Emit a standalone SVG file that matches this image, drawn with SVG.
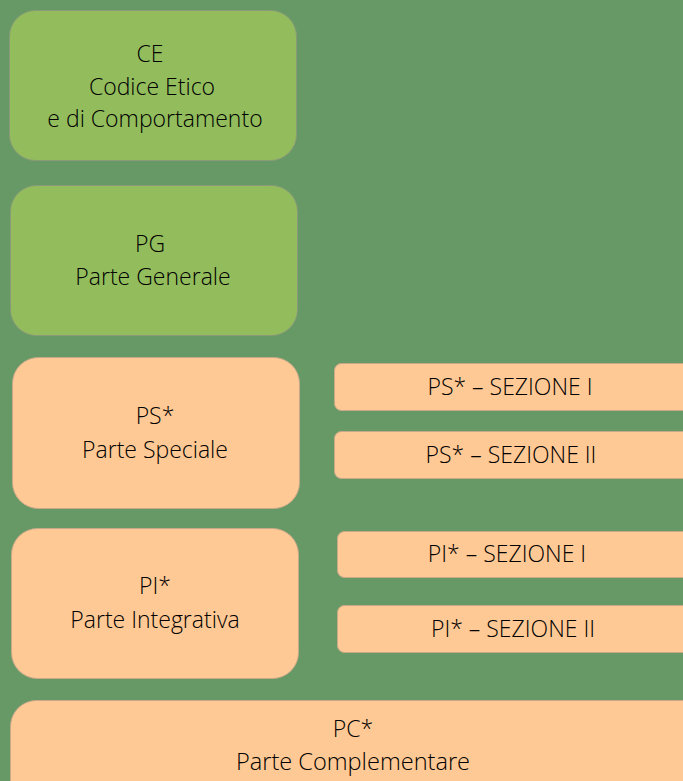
<svg xmlns="http://www.w3.org/2000/svg" width="683" height="781" viewBox="0 0 683 781">
<style>
.g{fill:#93bd5d;stroke:#8a9a78;stroke-width:1}
.p{fill:#ffc995;stroke:#c9a88a;stroke-width:1}
text{font-family:"Open Sans","Liberation Sans",sans-serif;font-weight:300;font-size:23px;fill:#000;text-anchor:middle}
</style>
<rect width="683" height="781" fill="#679966"/>
<g id="ce"><rect class="g" x="9.5" y="10.5" width="287" height="150" rx="26"/>
<text x="150" y="62">CE</text><text x="152" y="95">Codice Etico</text><text x="155" y="127">e di Comportamento</text></g>
<g id="pg"><rect class="g" x="10.5" y="185.5" width="287" height="150" rx="26"/>
<text x="150" y="252">PG</text><text x="153" y="285">Parte Generale</text></g>
<g id="ps"><rect class="p" x="12.5" y="357.5" width="287" height="151" rx="26"/>
<text x="155" y="424">PS*</text><text x="155" y="458">Parte Speciale</text></g>
<g id="ps1"><rect class="p" x="334.5" y="363.5" width="360" height="47" rx="7"/>
<text x="510" y="395">PS* – SEZIONE I</text></g>
<g id="ps2"><rect class="p" x="334.5" y="431.5" width="360" height="47" rx="7"/>
<text x="511" y="463">PS* – SEZIONE II</text></g>
<g id="pi"><rect class="p" x="11.5" y="528.5" width="287" height="150" rx="26"/>
<text x="155" y="594">PI*</text><text x="155" y="628">Parte Integrativa</text></g>
<g id="pi1"><rect class="p" x="337.5" y="531.5" width="360" height="46" rx="7"/>
<text x="507" y="562">PI* – SEZIONE I</text></g>
<g id="pi2"><rect class="p" x="337.5" y="605.5" width="360" height="47" rx="7"/>
<text x="513" y="637">PI* – SEZIONE II</text></g>
<g id="pc"><rect class="p" x="10.5" y="700.5" width="700" height="110" rx="26"/>
<text x="353" y="737">PC*</text><text x="353" y="770" textLength="234" lengthAdjust="spacingAndGlyphs">Parte Complementare</text></g>
<g id="connectors"/>
</svg>
